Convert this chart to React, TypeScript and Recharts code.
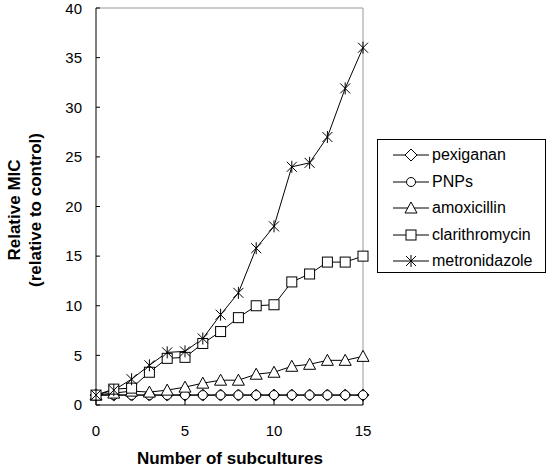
import { LineChart, Line, XAxis, YAxis, Legend, ReferenceLine } from 'recharts';

const subcultures = [0, 1, 2, 3, 4, 5, 6, 7, 8, 9, 10, 11, 12, 13, 14, 15];
const pexiganan = [1, 1, 1, 1, 1, 1, 1, 1, 1, 1, 1, 1, 1, 1, 1, 1];
const pnps = [1, 1, 1, 1, 1, 1, 1, 1, 1, 1, 1, 1, 1, 1, 1, 1];
const amoxicillin = [1, 1.2, 1.4, 1.3, 1.5, 1.8, 2.2, 2.5, 2.5, 3.1, 3.3, 3.9, 4.1, 4.5, 4.5, 4.9];
const clarithromycin = [1, 1.6, 1.7, 3.3, 4.7, 4.8, 6.2, 7.4, 8.8, 10, 10.1, 12.4, 13.2, 14.4, 14.4, 15];
const metronidazole = [1, 1.5, 2.6, 4, 5.3, 5.4, 6.7, 9.1, 11.3, 15.8, 18, 24, 24.4, 27, 31.9, 36];

const xTicks = [0, 5, 10, 15];
const yTicks = [0, 5, 10, 15, 20, 25, 30, 35, 40];

const data = subcultures.map((n, i) => ({
    n,
    pexiganan: pexiganan[i],
    pnps: pnps[i],
    amoxicillin: amoxicillin[i],
    clarithromycin: clarithromycin[i],
    metronidazole: metronidazole[i],
}));

type Shape = 'diamond' | 'circle' | 'triangle' | 'square' | 'star';

function Marker({ cx, cy, shape }: { cx: number; cy: number; shape: Shape }) {
    const p = { fill: '#fff', stroke: '#000', strokeWidth: 1 };
    switch (shape) {
        case 'diamond':
            return <polygon points={`${cx},${cy - 6} ${cx + 6},${cy} ${cx},${cy + 6} ${cx - 6},${cy}`} {...p} />;
        case 'circle':
            return <circle cx={cx} cy={cy} r={4.5} {...p} />;
        case 'triangle':
            return <polygon points={`${cx},${cy - 6} ${cx + 6},${cy + 5} ${cx - 6},${cy + 5}`} {...p} />;
        case 'square':
            return <rect x={cx - 5} y={cy - 5} width={10} height={10} {...p} />;
        default:
            return (
                <g stroke="#000" strokeWidth={1}>
                    <line x1={cx - 5} y1={cy - 5} x2={cx + 5} y2={cy + 5} />
                    <line x1={cx - 5} y1={cy + 5} x2={cx + 5} y2={cy - 5} />
                    <line x1={cx} y1={cy - 6} x2={cx} y2={cy + 6} />
                </g>
            );
    }
}

const series: { key: string; name: string; shape: Shape }[] = [
    { key: 'pexiganan', name: 'pexiganan', shape: 'diamond' },
    { key: 'pnps', name: 'PNPs', shape: 'circle' },
    { key: 'amoxicillin', name: 'amoxicillin', shape: 'triangle' },
    { key: 'clarithromycin', name: 'clarithromycin', shape: 'square' },
    { key: 'metronidazole', name: 'metronidazole', shape: 'star' },
];

function LegendBox() {
    return (
        <div style={{ border: '1px solid #000', width: 169, height: 134, boxSizing: 'border-box', background: '#fff', paddingTop: 2 }}>
            {series.map((s) => (
                <div key={s.key} style={{ display: 'flex', alignItems: 'center', height: 26.5 }}>
                    <svg width={40} height={16} style={{ marginLeft: 13 }}>
                        <line x1={2} y1={8} x2={38} y2={8} stroke="#000" />
                        <Marker cx={20} cy={8} shape={s.shape} />
                    </svg>
                    <span style={{ fontFamily: 'Liberation Sans, Arial', fontSize: 16, color: '#000', marginLeft: 1 }}>{s.name}</span>
                </div>
            ))}
        </div>
    );
}

const tickStyle = { fontFamily: 'Liberation Sans, Arial', fontSize: 15, fill: '#000' };
const titleStyle: React.CSSProperties = { fontFamily: 'Liberation Sans, Arial', fontSize: 17, fontWeight: 'bold', fill: '#000' };

export default function App() {
    return (
        <div style={{ position: 'absolute', left: 0, top: 0, width: 550, height: 471, background: '#fff' }}>
            <LineChart width={550} height={471} data={data} margin={{ top: 8, right: 187, bottom: 0, left: 0 }}>
                <XAxis
                    dataKey="n"
                    type="number"
                    domain={[0, 15]}
                    ticks={xTicks}
                    tick={tickStyle}
                    tickSize={-4}
                    tickMargin={24}
                    stroke="#000"
                    height={66}
                />
                <YAxis
                    type="number"
                    domain={[0, 40]}
                    ticks={yTicks}
                    tick={tickStyle}
                    tickSize={-4}
                    tickMargin={18}
                    stroke="#000"
                    width={96}
                />
                <ReferenceLine y={40} stroke="#999" />
                <ReferenceLine x={15} stroke="#999" />
                {series.map((s) => (
                    <Line
                        key={s.key}
                        dataKey={s.key}
                        name={s.name}
                        stroke="#000"
                        strokeWidth={1}
                        isAnimationActive={false}
                        dot={(props: any) => <Marker key={`${s.key}-${props.index}`} cx={props.cx} cy={props.cy} shape={s.shape} />}
                    />
                ))}
                <Legend
                    layout="horizontal"
                    verticalAlign="middle"
                    align="center"
                    content={<LegendBox />}
                    wrapperStyle={{ position: 'absolute', left: 377, top: 139, width: 170, height: 134 }}
                />
                <text x={230} y={464} textAnchor="middle" style={titleStyle}>Number of subcultures</text>
                <text x={16} y={210} textAnchor="middle" transform="rotate(-90 16 210)" dominantBaseline="middle" style={titleStyle}>Relative MIC</text>
                <text x={37} y={210} textAnchor="middle" transform="rotate(-90 37 210)" dominantBaseline="middle" style={titleStyle}>(relative to control)</text>
            </LineChart>
        </div>
    );
}
